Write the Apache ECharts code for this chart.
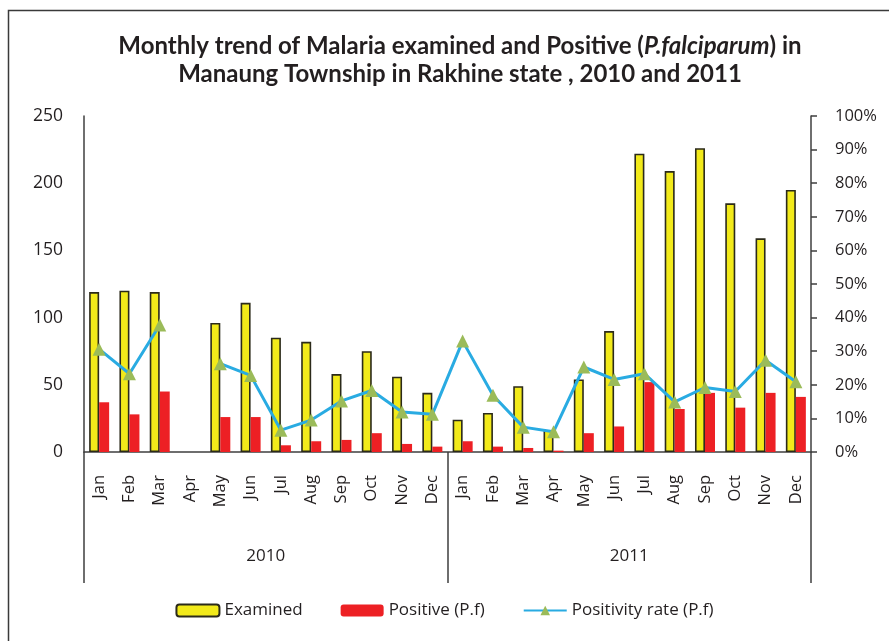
<!DOCTYPE html>
<html>
<head>
<meta charset="utf-8">
<title>Malaria Manaung</title>
<script src="https://cdn.jsdelivr.net/npm/echarts@6/dist/echarts.min.js"></script>
<style>
  html, body { margin: 0; padding: 0; background: #fff; }
  #chart { width: 889px; height: 641px; }
</style>
</head>
<body>
<div id="chart"></div>
<script>
const months = ['Jan','Feb','Mar','Apr','May','Jun','Jul','Aug','Sep','Oct','Nov','Dec',
  'Jan','Feb','Mar','Apr','May','Jun','Jul','Aug','Sep','Oct','Nov','Dec'];
const years = ['2010', '2011'];
// examined / positive counts, 2010 then 2011 (Apr 2010 has no data)
const examined = [119, 120, 119, '-', 96, 111, 85, 82, 58, 75, 56, 44,
  24, 29, 49, 16, 54, 90, 222, 209, 226, 185, 159, 195];
const positive = [37, 28, 45, '-', 26, 26, 5, 8, 9, 14, 6, 4,
  8, 4, 3, 1, 14, 19, 52, 32, 44, 33, 44, 41];
// positivity rate in percent
const rate = [30.6, 23.3, 37.8, '-', 26.3, 22.8, 6.5, 9.5, 15.2, 18.3, 11.9, 11.2,
  33.0, 16.9, 7.4, 6.0, 25.3, 21.6, 23.3, 14.9, 19.2, 18.0, 27.3, 20.9];

const font = 'Open Sans';
const axisColor = '#3f3f3f';
const textColor = '#231f20';

const chart = echarts.init(document.getElementById('chart'));
const option = {
  animation: false,
  textStyle: { fontFamily: font },
  title: {
    text: 'Monthly trend of Malaria examined and Positive ({i|P.falciparum}) in\nManaung Township in Rakhine state , 2010 and 2011',
    left: 455,
    textAlign: 'center',
    top: 27,
    textStyle: {
      fontFamily: 'Lato',
      fontSize: 24,
      fontWeight: 'bold',
      color: textColor,
      lineHeight: 28,
      rich: {
        i: { fontFamily: 'Lato', fontSize: 24, fontWeight: 'bold', fontStyle: 'italic', color: textColor, lineHeight: 28 }
      }
    }
  },
  legend: {
    bottom: 17,
    left: 'center',
    itemWidth: 43,
    itemHeight: 12,
    itemGap: 38,
    textStyle: { fontFamily: font, fontSize: 17, color: textColor },
    data: ['Examined', 'Positive (P.f)', 'Positivity rate (P.f)']
  },
  grid: { left: 84, right: 78, top: 116, bottom: 189 },
  xAxis: [
    {
      type: 'category',
      data: months,
      axisLine: { lineStyle: { color: axisColor, width: 1.5 } },
      axisTick: { show: false },
      axisLabel: { rotate: 90, margin: 23, fontSize: 16.5, color: textColor, interval: 0 }
    },
    {
      type: 'category',
      data: years,
      position: 'bottom',
      axisLine: { show: false },
      axisTick: { show: true, length: 131, lineStyle: { color: axisColor, width: 1.5 } },
      axisLabel: { margin: 96, fontSize: 17, color: textColor }
    }
  ],
  yAxis: [
    {
      type: 'value',
      min: 0,
      max: 250,
      interval: 50,
      splitLine: { show: false },
      axisLine: { show: true, lineStyle: { color: axisColor, width: 1.5 } },
      axisTick: { show: false },
      axisLabel: { margin: 21, fontSize: 17.5, color: textColor }
    },
    {
      type: 'value',
      min: 0,
      max: 100,
      interval: 10,
      position: 'right',
      splitLine: { show: false },
      axisLine: { show: true, lineStyle: { color: axisColor, width: 1.5 } },
      axisTick: { show: true, length: 6, lineStyle: { color: axisColor, width: 1.5 } },
      axisLabel: { margin: 24, fontSize: 16.5, color: textColor, formatter: '{value}%' }
    }
  ],
  graphic: [
    {
      type: 'rect',
      shape: { x: 8.5, y: 10.5, width: 1000, height: 1000 },
      style: { fill: 'none', stroke: '#3a3a3a', lineWidth: 1.5 },
      silent: true
    }
  ],
  series: [
    {
      name: 'Examined',
      type: 'bar',
      data: examined,
      barWidth: 10,
      barGap: '0%',
      itemStyle: { color: '#f2ea1a', borderColor: '#2b2a1a', borderWidth: 1.6 }
    },
    {
      name: 'Positive (P.f)',
      type: 'bar',
      data: positive,
      barWidth: 10,
      barGap: '0%',
      itemStyle: { color: '#ed2024' }
    },
    {
      name: 'Positivity rate (P.f)',
      type: 'line',
      yAxisIndex: 1,
      data: rate,
      connectNulls: false,
      symbol: 'triangle',
      symbolSize: 13,
      lineStyle: { color: '#29abe2', width: 3 },
      itemStyle: { color: '#9bbb59' },
      z: 5
    }
  ]
};
chart.setOption(option);
</script>
</body>
</html>
